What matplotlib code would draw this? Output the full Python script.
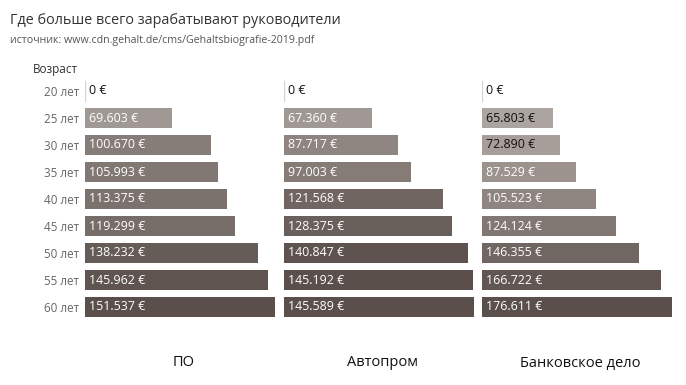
import matplotlib
matplotlib.use("Agg")
import matplotlib.pyplot as plt
import numpy as np
from matplotlib.colors import LinearSegmentedColormap

ages = ["20 лет", "25 лет", "30 лет", "35 лет", "40 лет", "45 лет", "50 лет", "55 лет", "60 лет"]
industries = ["ПО", "Автопром", "Банковское дело"]
po = [0, 69603, 100670, 105993, 113375, 119299, 138232, 145962, 151537]
auto = [0, 67360, 87717, 97003, 121568, 128375, 140847, 145192, 145589]
bank = [0, 65803, 72890, 87529, 105523, 124124, 146355, 166722, 176611]
series = [po, auto, bank]

title = "Где больше всего зарабатывают руководители"
subtitle = "источник: www.cdn.gehalt.de/cms/Gehaltsbiografie-2019.pdf"
ylabel_header = "Возраст"

FONT = ["Open Sans", "DejaVu Sans"]
plt.rcParams['font.family'] = FONT

W, H = 686, 385
fig = plt.figure(figsize=(W / 100, H / 100), dpi=100)

cmap = LinearSegmentedColormap.from_list("brown", ["#aca4a0", "#5a4f4b"])

def fmt(v):
    if v == 0:
        return "0 €"
    return f"{v:,}".replace(",", ".") + " €"

lefts = [85, 284, 482]
pw = 197
top_px, bot_px = 77.5, 320.5
n = len(ages)
for i, (vals, left) in enumerate(zip(series, lefts)):
    ax = fig.add_axes([left / W, 1 - bot_px / H, pw / W, (bot_px - top_px) / H])
    vmax = max(vals)
    y = np.arange(n)
    ratios = np.array(vals) / vmax
    t = np.clip((ratios - 0.37) / 0.63, 0, 1)
    colors = [cmap(tt) for tt in t]
    ax.barh(y, vals, height=0.74, color=colors, edgecolor="none")
    ax.set_xlim(0, vmax * pw / 190)
    ax.set_ylim(n - 0.5, -0.5)
    for s in ax.spines.values():
        s.set_visible(False)
    ax.set_xticks([])
    if i == 0:
        ax.set_yticks(y)
        ax.set_yticklabels(ages, fontsize=8.4, color="#666666")
        ax.tick_params(axis="y", length=0, pad=4)
    else:
        ax.set_yticks([])
    xr = vmax * pw / 190
    for yi, v, r in zip(y, vals, ratios):
        if v == 0:
            ax.plot([0, 0], [yi - 0.37, yi + 0.37], color="#d9d3cf", lw=1)
            ax.text(xr * 0.018, yi, fmt(v), va="center", ha="left", fontsize=8.9, color="#111111")
        else:
            tc = "#111111" if r < 0.45 else "white"
            ax.text(xr * 0.018, yi, fmt(v), va="center", ha="left", fontsize=8.9, color=tc)
    fig.text((left + pw / 2) / W, 1 - 363 / H, industries[i], ha="center", va="center",
             fontsize=10.5, color="#111111")

fig.text(10 / W, 1 - 20 / H, title, ha="left", va="center", fontsize=10.4, color="#333333")
fig.text(10 / W, 1 - 40 / H, subtitle, ha="left", va="center", fontsize=7.7, color="#555555")
fig.text(33 / W, 1 - 70 / H, ylabel_header, ha="left", va="center", fontsize=8.5, color="#333333")

fig.savefig("out.png", dpi=100)
